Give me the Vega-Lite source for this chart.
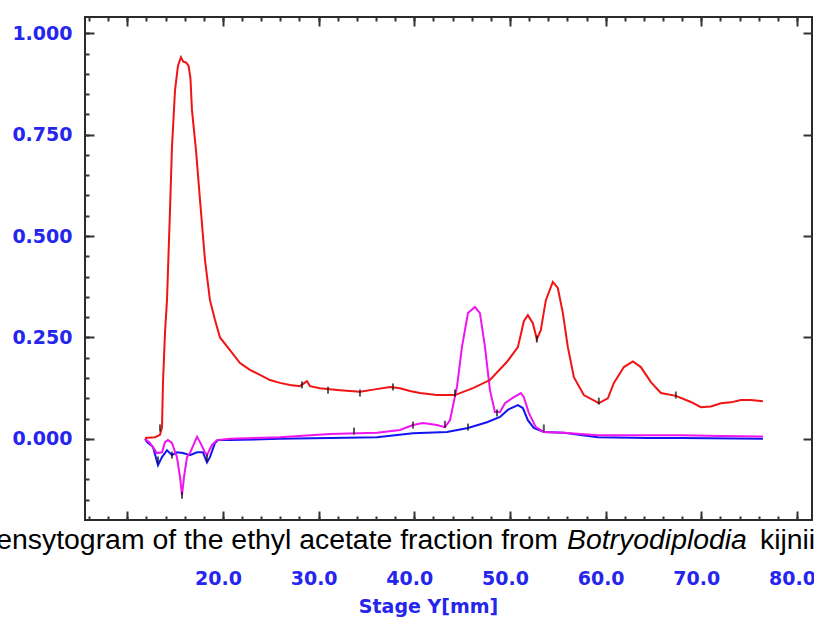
{
  "$schema": "https://vega.github.io/schema/vega-lite/v6.json",
  "width": 727,
  "height": 503,
  "autosize": {"type": "none"},
  "padding": {"left": 85, "top": 17, "right": 2, "bottom": 99},
  "background": "white",
  "config": {
    "view": {"stroke": "#2b2b2b", "strokeWidth": 2},
    "axis": {"grid": false, "domain": false, "tickColor": "#333333", "tickWidth": 2, "labelFont": "DejaVu Sans", "labelFontWeight": "bold", "labelFontSize": 19, "labelColor": "#2525ee", "labelFlush": false, "labelOverlap": false}
  },
  "datasets": {
    "red": [
      {"mm": 11.85, "v": 0.002}, {"mm": 12.9, "v": 0.004}, {"mm": 13.42, "v": 0.01}, {"mm": 13.63, "v": 0.029}, {"mm": 13.73, "v": 0.137}, {"mm": 13.94, "v": 0.261}, {"mm": 14.15, "v": 0.342}, {"mm": 14.46, "v": 0.56}, {"mm": 14.67, "v": 0.719}, {"mm": 14.99, "v": 0.86}, {"mm": 15.3, "v": 0.92}, {"mm": 15.61, "v": 0.941}, {"mm": 15.85, "v": 0.93}, {"mm": 16.14, "v": 0.928}, {"mm": 16.4, "v": 0.92}, {"mm": 16.6, "v": 0.89}, {"mm": 16.76, "v": 0.811}, {"mm": 17.18, "v": 0.712}, {"mm": 17.6, "v": 0.589}, {"mm": 18.12, "v": 0.441}, {"mm": 18.64, "v": 0.342}, {"mm": 19.17, "v": 0.293}, {"mm": 19.69, "v": 0.25}, {"mm": 20.73, "v": 0.219}, {"mm": 21.78, "v": 0.187}, {"mm": 22.82, "v": 0.17}, {"mm": 23.87, "v": 0.158}, {"mm": 24.91, "v": 0.145}, {"mm": 25.96, "v": 0.138}, {"mm": 27.01, "v": 0.133}, {"mm": 28.05, "v": 0.13}, {"mm": 28.78, "v": 0.142}, {"mm": 29.1, "v": 0.13}, {"mm": 30.14, "v": 0.125}, {"mm": 32.23, "v": 0.12}, {"mm": 34.32, "v": 0.116}, {"mm": 35.89, "v": 0.122}, {"mm": 37.46, "v": 0.128}, {"mm": 38.5, "v": 0.125}, {"mm": 39.54, "v": 0.118}, {"mm": 40.59, "v": 0.113}, {"mm": 42.36, "v": 0.108}, {"mm": 44.25, "v": 0.108}, {"mm": 46.13, "v": 0.125}, {"mm": 47.91, "v": 0.145}, {"mm": 49.69, "v": 0.19}, {"mm": 50.83, "v": 0.226}, {"mm": 51.45, "v": 0.29}, {"mm": 51.87, "v": 0.305}, {"mm": 52.39, "v": 0.285}, {"mm": 52.81, "v": 0.246}, {"mm": 53.22, "v": 0.268}, {"mm": 53.75, "v": 0.342}, {"mm": 54.48, "v": 0.387}, {"mm": 55.0, "v": 0.372}, {"mm": 55.53, "v": 0.31}, {"mm": 56.05, "v": 0.226}, {"mm": 56.68, "v": 0.152}, {"mm": 57.72, "v": 0.108}, {"mm": 59.29, "v": 0.088}, {"mm": 60.23, "v": 0.1}, {"mm": 60.86, "v": 0.138}, {"mm": 61.91, "v": 0.177}, {"mm": 62.85, "v": 0.191}, {"mm": 63.68, "v": 0.177}, {"mm": 64.73, "v": 0.14}, {"mm": 65.78, "v": 0.113}, {"mm": 67.34, "v": 0.106}, {"mm": 68.91, "v": 0.091}, {"mm": 69.96, "v": 0.078}, {"mm": 71.0, "v": 0.08}, {"mm": 72.05, "v": 0.088}, {"mm": 73.1, "v": 0.09}, {"mm": 74.14, "v": 0.096}, {"mm": 75.19, "v": 0.096}, {"mm": 76.44, "v": 0.093}
    ],
    "magenta": [
      {"mm": 11.85, "v": 0.0}, {"mm": 12.37, "v": -0.01}, {"mm": 13.1, "v": -0.035}, {"mm": 13.63, "v": -0.033}, {"mm": 13.94, "v": -0.008}, {"mm": 14.25, "v": -0.003}, {"mm": 14.67, "v": -0.01}, {"mm": 15.19, "v": -0.045}, {"mm": 15.51, "v": -0.094}, {"mm": 15.72, "v": -0.139}, {"mm": 15.93, "v": -0.094}, {"mm": 16.24, "v": -0.045}, {"mm": 16.55, "v": -0.035}, {"mm": 17.29, "v": 0.005}, {"mm": 17.6, "v": -0.008}, {"mm": 18.12, "v": -0.033}, {"mm": 18.33, "v": -0.04}, {"mm": 18.85, "v": -0.015}, {"mm": 19.38, "v": -0.003}, {"mm": 20.73, "v": 0.0}, {"mm": 25.96, "v": 0.004}, {"mm": 31.19, "v": 0.012}, {"mm": 36.1, "v": 0.015}, {"mm": 38.5, "v": 0.022}, {"mm": 39.86, "v": 0.034}, {"mm": 40.9, "v": 0.039}, {"mm": 42.36, "v": 0.034}, {"mm": 43.2, "v": 0.029}, {"mm": 43.73, "v": 0.046}, {"mm": 44.46, "v": 0.128}, {"mm": 44.98, "v": 0.226}, {"mm": 45.61, "v": 0.31}, {"mm": 46.34, "v": 0.325}, {"mm": 46.86, "v": 0.31}, {"mm": 47.39, "v": 0.226}, {"mm": 47.91, "v": 0.12}, {"mm": 48.43, "v": 0.066}, {"mm": 48.96, "v": 0.066}, {"mm": 49.48, "v": 0.088}, {"mm": 50.41, "v": 0.103}, {"mm": 51.14, "v": 0.113}, {"mm": 51.45, "v": 0.103}, {"mm": 51.97, "v": 0.064}, {"mm": 52.7, "v": 0.029}, {"mm": 53.54, "v": 0.017}, {"mm": 55.63, "v": 0.015}, {"mm": 59.19, "v": 0.009}, {"mm": 64.42, "v": 0.009}, {"mm": 67.87, "v": 0.009}, {"mm": 72.05, "v": 0.007}, {"mm": 76.44, "v": 0.006}
    ],
    "blue": [
      {"mm": 11.85, "v": 0.0}, {"mm": 12.07, "v": -0.008}, {"mm": 12.69, "v": -0.02}, {"mm": 13.21, "v": -0.065}, {"mm": 13.63, "v": -0.045}, {"mm": 14.15, "v": -0.028}, {"mm": 14.67, "v": -0.04}, {"mm": 15.19, "v": -0.033}, {"mm": 15.82, "v": -0.035}, {"mm": 16.55, "v": -0.04}, {"mm": 17.29, "v": -0.033}, {"mm": 17.91, "v": -0.033}, {"mm": 18.33, "v": -0.058}, {"mm": 18.64, "v": -0.045}, {"mm": 19.17, "v": -0.01}, {"mm": 19.48, "v": -0.003}, {"mm": 20.73, "v": -0.003}, {"mm": 25.96, "v": 0.0}, {"mm": 31.19, "v": 0.002}, {"mm": 36.1, "v": 0.004}, {"mm": 39.86, "v": 0.014}, {"mm": 43.41, "v": 0.017}, {"mm": 45.61, "v": 0.027}, {"mm": 47.6, "v": 0.041}, {"mm": 48.96, "v": 0.054}, {"mm": 49.8, "v": 0.072}, {"mm": 50.83, "v": 0.083}, {"mm": 51.35, "v": 0.076}, {"mm": 51.87, "v": 0.046}, {"mm": 52.49, "v": 0.027}, {"mm": 53.54, "v": 0.017}, {"mm": 55.63, "v": 0.015}, {"mm": 59.19, "v": 0.004}, {"mm": 64.42, "v": 0.002}, {"mm": 67.87, "v": 0.002}, {"mm": 76.44, "v": 0.0}
    ],
    "markers": [
      {"mm": 28.26, "v": 0.133}, {"mm": 30.98, "v": 0.12}, {"mm": 34.32, "v": 0.113}, {"mm": 37.77, "v": 0.128}, {"mm": 44.25, "v": 0.113}, {"mm": 52.81, "v": 0.246}, {"mm": 59.29, "v": 0.093}, {"mm": 67.34, "v": 0.108}, {"mm": 13.42, "v": 0.027}, {"mm": 13.21, "v": -0.052}, {"mm": 14.67, "v": -0.04}, {"mm": 15.72, "v": -0.139}, {"mm": 18.33, "v": -0.047}, {"mm": 33.7, "v": 0.019}, {"mm": 39.86, "v": 0.034}, {"mm": 43.2, "v": 0.036}, {"mm": 45.61, "v": 0.029}, {"mm": 48.64, "v": 0.064}, {"mm": 53.54, "v": 0.027}
    ]
  },
  "resolve": {"axis": {"x": "independent", "y": "independent"}},
  "layer": [
    {
      "data": {"name": "blue"},
      "mark": {"type": "line", "color": "#1414f0", "strokeWidth": 2},
      "encoding": {
        "x": {"field": "mm", "type": "quantitative", "scale": {"domain": [5.58, 81.57], "nice": false, "zero": false},
          "axis": {"orient": "bottom", "values": [10, 20, 30, 40, 50, 60, 70, 80], "tickSize": -9, "labelPadding": 67, "labelBaseline": "middle", "labelOffset": -5, "labelExpr": "datum.value < 15 ? '' : format(datum.value, '.1f')", "title": "Stage Y[mm]", "titleFont": "DejaVu Sans", "titleFontSize": 19, "titleFontWeight": "bold", "titleColor": "#2525ee", "titleX": 343, "titleY": 86, "titleBaseline": "middle"}},
        "y": {"field": "v", "type": "quantitative", "scale": {"domain": [-0.2, 1.04], "nice": false, "zero": false},
          "axis": {"orient": "left", "values": [0, 0.25, 0.5, 0.75, 1], "format": ".3f", "tickSize": -9, "labelPadding": 22, "title": null}}
      }
    },
    {
      "data": {"name": "magenta"},
      "mark": {"type": "line", "color": "#f014f0", "strokeWidth": 2},
      "encoding": {
        "x": {"field": "mm", "type": "quantitative", "scale": {"domain": [5.58, 81.57], "nice": false, "zero": false},
          "axis": {"orient": "bottom", "values": [6, 8, 10, 12, 14, 16, 18, 20, 22, 24, 26, 28, 30, 32, 34, 36, 38, 40, 42, 44, 46, 48, 50, 52, 54, 56, 58, 60, 62, 64, 66, 68, 70, 72, 74, 76, 78, 80], "tickSize": -4, "labels": false, "title": null}},
        "y": {"field": "v", "type": "quantitative", "scale": {"domain": [-0.2, 1.04], "nice": false, "zero": false},
          "axis": {"orient": "left", "values": [-0.15, -0.1, -0.05, 0, 0.05, 0.1, 0.15, 0.2, 0.25, 0.3, 0.35, 0.4, 0.45, 0.5, 0.55, 0.6, 0.65, 0.7, 0.75, 0.8, 0.85, 0.9, 0.95, 1.0], "tickSize": -4, "labels": false, "title": null}}
      }
    },
    {
      "data": {"name": "red"},
      "mark": {"type": "line", "color": "#f01414", "strokeWidth": 2},
      "encoding": {
        "x": {"field": "mm", "type": "quantitative", "scale": {"domain": [5.58, 81.57], "nice": false, "zero": false},
          "axis": {"orient": "top", "values": [10, 20, 30, 40, 50, 60, 70, 80], "tickSize": -9, "labels": false, "title": null}},
        "y": {"field": "v", "type": "quantitative", "scale": {"domain": [-0.2, 1.04], "nice": false, "zero": false},
          "axis": {"orient": "right", "values": [0, 0.25, 0.5, 0.75, 1], "tickSize": -9, "labels": false, "title": null}}
      }
    },
    {
      "data": {"name": "markers"},
      "mark": {"type": "tick", "orient": "vertical", "color": "#111111", "thickness": 2, "size": 7},
      "encoding": {
        "x": {"field": "mm", "type": "quantitative", "scale": {"domain": [5.58, 81.57], "nice": false, "zero": false},
          "axis": {"orient": "top", "values": [6, 8, 10, 12, 14, 16, 18, 20, 22, 24, 26, 28, 30, 32, 34, 36, 38, 40, 42, 44, 46, 48, 50, 52, 54, 56, 58, 60, 62, 64, 66, 68, 70, 72, 74, 76, 78, 80], "tickSize": -4, "labels": false, "title": null}},
        "y": {"field": "v", "type": "quantitative", "scale": {"domain": [-0.2, 1.04], "nice": false, "zero": false}, "axis": null}
      }
    },
    {
      "data": {"values": [{}]},
      "mark": {"type": "text", "text": "Densytogram of the ethyl acetate fraction from", "align": "right", "baseline": "alphabetic", "font": "Liberation Sans", "fontSize": 28.4, "color": "black"},
      "encoding": {
        "x": {"datum": 55.02, "type": "quantitative", "scale": {"domain": [5.58, 81.57], "nice": false, "zero": false}, "axis": null},
        "y": {"datum": -0.2717, "type": "quantitative", "scale": {"domain": [-0.2, 1.04], "nice": false, "zero": false}, "axis": null}
      }
    },
    {
      "data": {"values": [{}]},
      "mark": {"type": "text", "text": "Botryodiplodia", "align": "left", "baseline": "alphabetic", "font": "Liberation Sans", "fontSize": 28.4, "fontStyle": "italic", "color": "black"},
      "encoding": {
        "x": {"datum": 55.96, "type": "quantitative", "scale": {"domain": [5.58, 81.57], "nice": false, "zero": false}, "axis": null},
        "y": {"datum": -0.2717, "type": "quantitative", "scale": {"domain": [-0.2, 1.04], "nice": false, "zero": false}, "axis": null}
      }
    },
    {
      "data": {"values": [{}]},
      "mark": {"type": "text", "text": "kijnii", "align": "left", "baseline": "alphabetic", "font": "Liberation Sans", "fontSize": 28.4, "color": "black"},
      "encoding": {
        "x": {"datum": 76.13, "type": "quantitative", "scale": {"domain": [5.58, 81.57], "nice": false, "zero": false}, "axis": null},
        "y": {"datum": -0.2717, "type": "quantitative", "scale": {"domain": [-0.2, 1.04], "nice": false, "zero": false}, "axis": null}
      }
    }
  ]
}
